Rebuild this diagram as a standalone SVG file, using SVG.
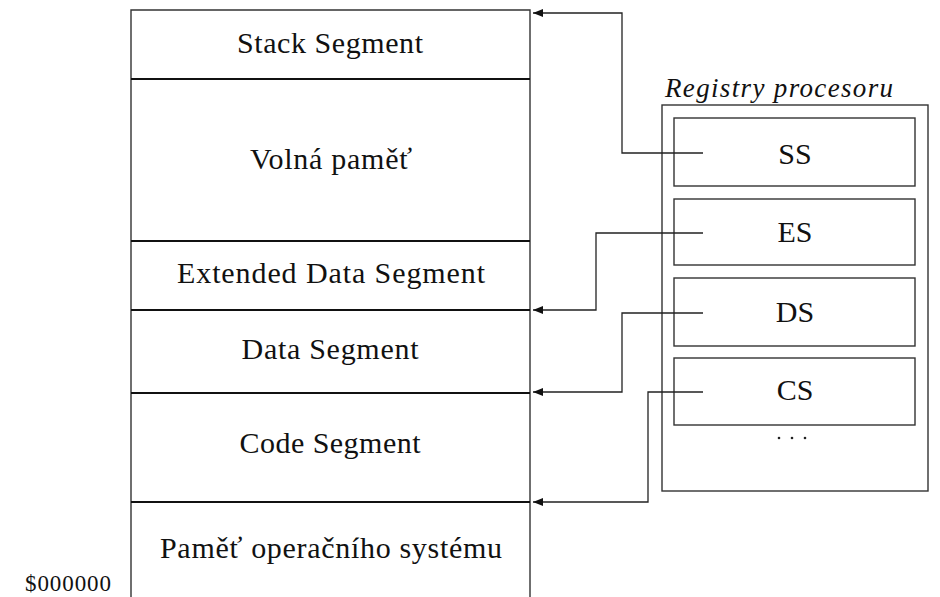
<svg xmlns="http://www.w3.org/2000/svg" width="940" height="597" viewBox="0 0 940 597">
<defs>
<style>
.t{font-family:"Liberation Serif","DejaVu Serif",serif;font-size:30px;fill:#111;text-anchor:middle}
.edge{fill:none;stroke:#222;stroke-width:1.3}
.sep{stroke:#111;stroke-width:2.2}
.box{fill:none;stroke:#333;stroke-width:1.4}
</style>
<marker id="ah" viewBox="0 0 10 8" refX="10" refY="4" markerWidth="10" markerHeight="8" markerUnits="userSpaceOnUse" orient="auto">
<path d="M0,0 L10,4 L0,8 Z" fill="#111"/>
</marker>
</defs>
<rect width="940" height="597" fill="#fff"/>
<g id="memory">
<path d="M131,597 V10 H530 V597" class="box"/>
<g id="stack"><text class="t" x="330" y="53" textLength="186">Stack Segment</text></g>
<line class="sep" x1="131" y1="79" x2="530" y2="79"/>
<g id="free"><text class="t" x="331" y="169" textLength="162">Volná paměť</text></g>
<line class="sep" x1="131" y1="241" x2="530" y2="241"/>
<g id="extdata"><text class="t" x="331" y="283" textLength="308">Extended Data Segment</text></g>
<line class="sep" x1="131" y1="310" x2="530" y2="310"/>
<g id="data"><text class="t" x="330" y="359" textLength="177">Data Segment</text></g>
<line class="sep" x1="131" y1="393" x2="530" y2="393"/>
<g id="code"><text class="t" x="330" y="453" textLength="181">Code Segment</text></g>
<line class="sep" x1="131" y1="502" x2="530" y2="502"/>
<g id="os"><text class="t" x="331" y="558" textLength="342">Paměť operačního systému</text></g>
<g id="addr"><text class="t" x="68" y="591" textLength="86" style="font-size:23px">$000000</text></g>
</g>
<g id="registers">
<text x="665" y="97" textLength="228" style="font-family:'Liberation Serif','DejaVu Serif',serif;font-style:italic;font-size:27px;fill:#111">Registry procesoru</text>
<rect class="box" x="662" y="105" width="266" height="386"/>
<g id="SS"><rect class="box" x="674" y="118" width="241" height="68"/><text class="t" x="795" y="164">SS</text></g>
<g id="ES"><rect class="box" x="674" y="199" width="241" height="66"/><text class="t" x="795" y="242">ES</text></g>
<g id="DS"><rect class="box" x="674" y="278" width="241" height="68"/><text class="t" x="795" y="322">DS</text></g>
<g id="CS"><rect class="box" x="674" y="358" width="241" height="67"/><text class="t" x="795" y="400">CS</text></g>
<g id="more"><circle cx="779" cy="438" r="1.3" fill="#222"/><circle cx="792" cy="438" r="1.3" fill="#222"/><circle cx="805" cy="438" r="1.3" fill="#222"/></g>
</g>
<g id="connectors">
<path class="edge" d="M703,153 H622 V13 H533" marker-end="url(#ah)"/>
<path class="edge" d="M703,233 H596 V310 H533" marker-end="url(#ah)"/>
<path class="edge" d="M703,313 H622 V392 H533" marker-end="url(#ah)"/>
<path class="edge" d="M703,392 H648 V502 H533" marker-end="url(#ah)"/>
</g>
</svg>
